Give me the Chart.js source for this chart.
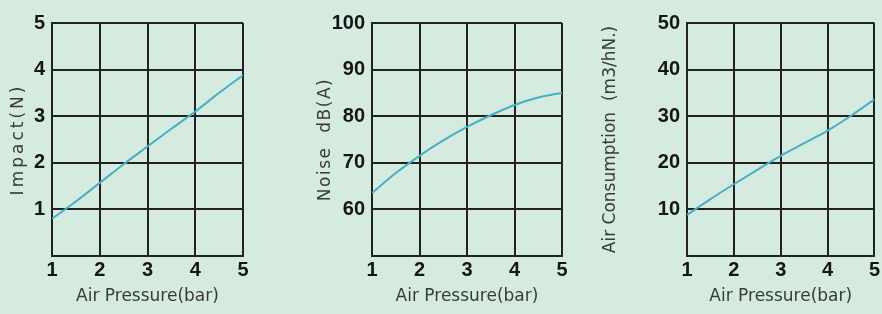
<!DOCTYPE html>
<html>
<head>
<meta charset="utf-8">
<script src="https://cdn.jsdelivr.net/npm/chart.js@4.4.1/dist/chart.umd.min.js"></script>
<style>
  html, body { margin: 0; padding: 0; background: #d5ebe0; }
  #wrap { position: relative; width: 882px; height: 314px; overflow: hidden; }
  canvas { position: absolute; top: 0; }
</style>
</head>
<body>
<div id="wrap">
  <canvas id="impact" width="294" height="314" style="left:0px"></canvas>
  <canvas id="noise" width="294" height="314" style="left:294px"></canvas>
  <canvas id="air" width="294" height="314" style="left:588px"></canvas>
</div>
<script>
// air pressure (bar) readings along the x axis
const pressure = [1, 1.5, 2, 2.5, 3, 3.5, 4, 4.5, 5];
// Impact (N)
const impact = [0.8, 1.17, 1.57, 1.97, 2.35, 2.73, 3.1, 3.5, 3.88];
// Noise dB(A)
const noise = [63.5, 67.8, 71.5, 74.8, 77.7, 80.2, 82.4, 84.0, 85.0];
// Air consumption (m3/hN.)
const airUse = [8.8, 12.2, 15.4, 18.5, 21.5, 24.2, 26.9, 30.1, 33.6];

const xTitle = 'Air Pressure(bar)';
const gridColor = '#222222';
const tickColor = '#151515';
const titleColor = '#3a3a3a';
const lineColor = '#4aaec8';

function makeChart(id, values, yTitle, yMin, yMax, yStep, yWidth, padRight, titlePad, spacing) {
    let ctx = document.getElementById(id).getContext('2d');
    return new Chart(ctx, {
        type: 'line',
        data: {
            datasets: [{
                data: pressure.map((p, i) => ({ x: p, y: values[i] })),
                borderColor: lineColor,
                borderWidth: 2,
                pointRadius: 0,
                fill: false,
                cubicInterpolationMode: 'monotone'
            }]
        },
        options: {
            responsive: false,
            animation: false,
            layout: { padding: { left: 0, right: padRight, top: 23, bottom: 0 } },
            plugins: {
                legend: { display: false },
                tooltip: { enabled: false }
            },
            scales: {
                x: {
                    type: 'linear',
                    min: 1,
                    max: 5,
                    ticks: {
                        stepSize: 1,
                        padding: 2,
                        color: tickColor,
                        font: { family: 'Liberation Sans', size: 20, weight: 'bold' }
                    },
                    grid: { color: gridColor, lineWidth: 2, drawTicks: false },
                    border: { color: gridColor, width: 2 },
                    title: {
                        display: true,
                        text: xTitle,
                        color: titleColor,
                        font: { family: 'DejaVu Sans', size: 17 },
                        padding: { top: 0, bottom: 7 }
                    },
                    afterFit: function (scale) {
                        scale.height = 58;
                    }
                },
                y: {
                    min: yMin,
                    max: yMax,
                    ticks: {
                        stepSize: yStep,
                        padding: 7,
                        color: tickColor,
                        font: { family: 'Liberation Sans', size: 20, weight: 'bold' },
                        callback: function (value) {
                            return value === yMin ? '' : value;
                        }
                    },
                    grid: { color: gridColor, lineWidth: 2, drawTicks: false },
                    border: { color: gridColor, width: 2 },
                    title: {
                        display: true,
                        text: yTitle,
                        color: titleColor,
                        font: { family: 'DejaVu Sans', size: 17 },
                        padding: { top: titlePad, bottom: 0 }
                    },
                    afterFit: function (scale) {
                        scale.width = yWidth;
                        // the scanned titles are spread out, so space the letters a bit
                        if (!scale._spaced) {
                            let drawTitle = scale.drawTitle;
                            scale.drawTitle = function () {
                                this.ctx.save();
                                this.ctx.letterSpacing = spacing + 'px';
                                drawTitle.call(this);
                                this.ctx.restore();
                            };
                            scale._spaced = true;
                        }
                    }
                }
            }
        }
    });
}

makeChart('impact', impact, 'Impact(N)', 0, 5, 1, 52, 51, 8, 3);
makeChart('noise', noise, 'Noise  dB(A)', 50, 100, 10, 78, 26, 21, 1.5);
makeChart('air', airUse, 'Air Consumption  (m3/hN.)', 0, 50, 10, 99, 6, 12, 0);
</script>
</body>
</html>
